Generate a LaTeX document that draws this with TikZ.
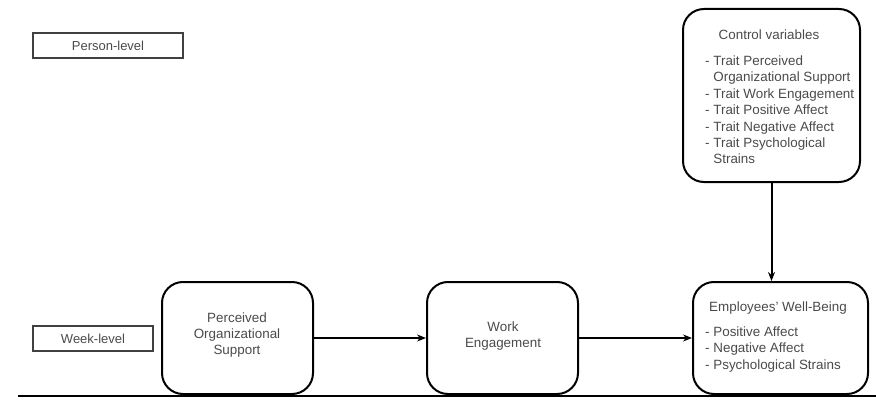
\documentclass[tikz,border=0pt]{standalone}
\usepackage{fontspec}
\setmainfont{Liberation Sans}
\usetikzlibrary{arrows.meta}
\definecolor{ink}{HTML}{4A4A4A}
\begin{document}
\begin{tikzpicture}[x=1pt,y=-1pt,
  txt/.style={inner sep=0pt,text=ink,font=\fontsize{13.4}{16.4}\selectfont},
  levelbox/.style={draw=black!75,line width=1.4pt,inner sep=0pt,text=ink,
    font=\fontsize{13}{16.4}\selectfont},
  roundbox/.style={draw,line width=2pt,rounded corners=21pt,inner sep=0pt},
  arr/.style={line width=2pt,-{Stealth[length=9pt,width=7pt]}}]
\useasboundingbox (0,0) rectangle (876,412);

% level labels
\node[levelbox,minimum width=150,minimum height=25] (person) at (108,45.5) {Person-level};
\node[levelbox,minimum width=120,minimum height=25] (week) at (93,338.5) {Week-level};

% person-level controls
\node[roundbox,minimum width=177,minimum height=173] (ctrl) at (771.5,95.5) {};
\node[txt,anchor=base] (ctrlT) at (769,39.5) {Control variables};
\node[txt,anchor=north west,align=left] (ctrlL) at (705,55.5) {%
- Trait Perceived\\
\phantom{- }Organizational Support\\
- Trait Work Engagement\\
- Trait Positive Affect\\
- Trait Negative Affect\\
- Trait Psychological\\
\phantom{- }Strains};

% week-level model
\node[roundbox,minimum width=151,minimum height=112] (pos) at (237.5,338) {};
\node[txt,align=center] (posT) at (237,335) {Perceived\\Organizational\\Support};
\node[roundbox,minimum width=151,minimum height=112] (we) at (502.5,338) {};
\node[txt,align=center] (weT) at (503,336) {Work\\Engagement};
\node[roundbox,minimum width=175,minimum height=112] (ewb) at (780.5,338) {};
\node[txt,anchor=base] (ewbT) at (778,311.5) {Employees’ Well-Being};
\node[txt,anchor=north west,align=left] (ewbL) at (705,326.5) {%
- Positive Affect\\
- Negative Affect\\
- Psychological Strains};

% connectors
\draw[arr] (pos) -- (we);
\draw[arr] (we) -- (ewb);
\draw[arr] (ctrl.south) -- (ctrl.south |- ewb.north);

% level divider
\coordinate (divL) at (18,396);
\coordinate (divR) at (876,396);
\draw[line width=1.4pt] (divL) -- (divR);
\end{tikzpicture}
\end{document}
